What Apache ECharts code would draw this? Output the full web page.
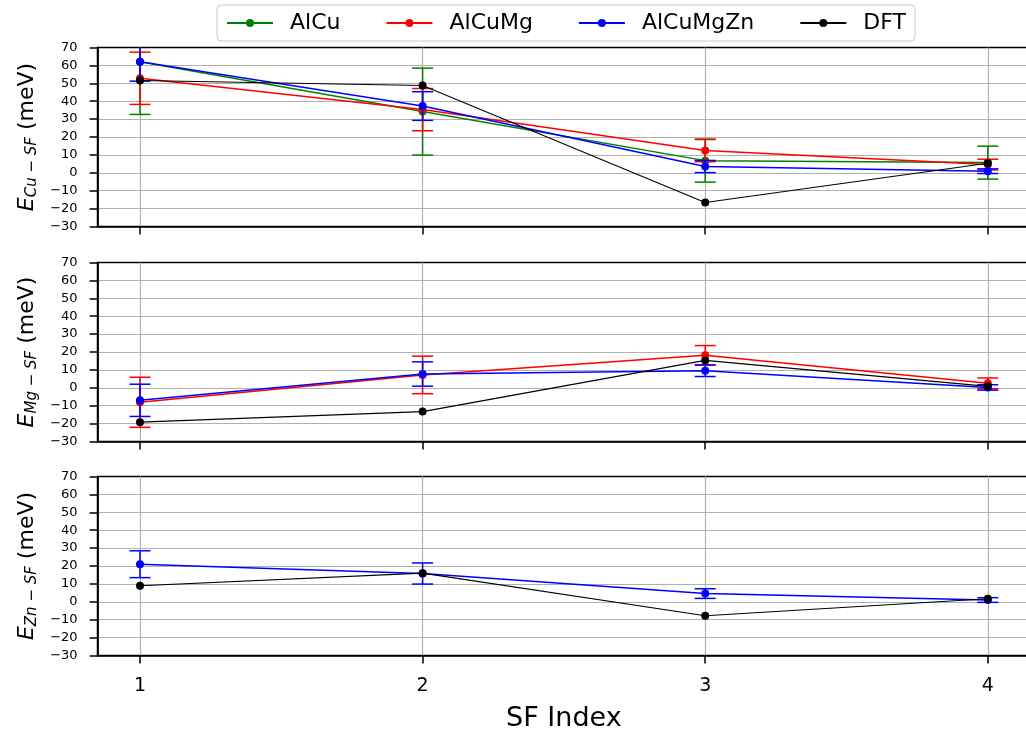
<!DOCTYPE html>
<html>
<head>
<meta charset="utf-8">
<script src="https://cdn.jsdelivr.net/npm/echarts@6/dist/echarts.min.js"></script>
<style>html,body{margin:0;padding:0;background:#fff}#c{width:1026px;height:735px}</style>
</head>
<body>
<div id="c"></div>
<script>
// ---- data ----
const sfIndex = [1, 2, 3, 4];
const seriesNames = ['AlCu', 'AlCuMg', 'AlCuMgZn', 'DFT'];
const yTicks = [-30, -20, -10, 0, 10, 20, 30, 40, 50, 60, 70];

// Panel 1: E_Cu-SF
const cuAlCu = [62, 34.2, 6.8, 5.7];
const cuAlCuErr = [29.4, 24.3, 12, 9.2];
const cuAlCuMg = [52.8, 35.3, 12.4, 4.6];
const cuAlCuMgErr = [14.6, 11.8, 6.2, 3];
const cuAlCuMgZn = [62, 37.3, 3.5, 0.9];
const cuAlCuMgZnErr = [10.8, 8, 3.4, 1.3];
const cuDFT = [51.6, 48.8, -16.6, 5.3];

// Panel 2: E_Mg-SF
const mgAlCuMg = [-8.1, 7.2, 18.2, 2.5];
const mgAlCuMgErr = [14, 10.5, 5.4, 3];
const mgAlCuMgZn = [-7, 7.7, 9.5, 0.2];
const mgAlCuMgZnErr = [9, 6.8, 3.2, 1.5];
const mgDFT = [-19.2, -13.3, 15.3, 0.8];

// Panel 3: E_Zn-SF
const znAlCuMgZn = [21, 15.8, 4.6, 1];
const znAlCuMgZnErr = [7.5, 5.9, 2.7, 1.3];
const znDFT = [9, 16, -7.8, 1.7];

// ---- styling ----
const colors = { AlCu: '#008000', AlCuMg: '#ff0000', AlCuMgZn: '#0000ff', DFT: '#000000' };
const order = { AlCu: 0, AlCuMg: 1, AlCuMgZn: 2, DFT: 3 };
const FONT = 'DejaVu Sans';

const chart = echarts.init(document.getElementById('c'), null, { renderer: 'canvas' });

const panels = [
  { sub: 'Cu \u2212 SF', sets: [
      { name: 'AlCu', v: cuAlCu, e: cuAlCuErr },
      { name: 'AlCuMg', v: cuAlCuMg, e: cuAlCuMgErr },
      { name: 'AlCuMgZn', v: cuAlCuMgZn, e: cuAlCuMgZnErr },
      { name: 'DFT', v: cuDFT } ] },
  { sub: 'Mg \u2212 SF', sets: [
      { name: 'AlCuMg', v: mgAlCuMg, e: mgAlCuMgErr },
      { name: 'AlCuMgZn', v: mgAlCuMgZn, e: mgAlCuMgZnErr },
      { name: 'DFT', v: mgDFT } ] },
  { sub: 'Zn \u2212 SF', sets: [
      { name: 'AlCuMgZn', v: znAlCuMgZn, e: znAlCuMgZnErr },
      { name: 'DFT', v: znDFT } ] }
];

const gridTops = [47.5, 262.5, 476.5];
const gridH = 179;

const grids = [], xAxes = [], yAxes = [], lineSeries = [], errSeries = [];

function errRender(params, api) {
  const x = api.value(0), y = api.value(1), e = api.value(2);
  const c = api.visual('color');
  const p = api.coord([x, y]);
  const top = api.coord([x, y + e])[1];
  const bot = api.coord([x, y - e])[1];
  const cs = params.coordSys;
  const yTop = Math.max(top, cs.y), yBot = Math.min(bot, cs.y + cs.height);
  const st = { stroke: c, lineWidth: 1.5 };
  const ch = [{ type: 'line', shape: { x1: p[0], y1: yTop, x2: p[0], y2: yBot }, style: st }];
  const hw = 10.5;
  if (top >= cs.y - 0.5) ch.push({ type: 'line', shape: { x1: p[0] - hw, y1: top, x2: p[0] + hw, y2: top }, style: st });
  if (bot <= cs.y + cs.height + 0.5) ch.push({ type: 'line', shape: { x1: p[0] - hw, y1: bot, x2: p[0] + hw, y2: bot }, style: st });
  return { type: 'group', children: ch };
}

panels.forEach((pn, gi) => {
  const last = gi === panels.length - 1;
  grids.push({ left: 97.6, width: 932.6, top: gridTops[gi], height: gridH, show: true,
    outerBoundsMode: 'none', containLabel: false,
    borderColor: '#000', borderWidth: 1.7, backgroundColor: 'transparent' });
  xAxes.push({
    type: 'value', gridIndex: gi, min: 0.85, max: 4.15,
    axisLine: { show: true, onZero: false, lineStyle: { color: '#000', width: 1.7 } },
    axisTick: { show: true, length: 8, lineStyle: { color: '#000', width: 1.5 }, customValues: sfIndex },
    axisLabel: { show: last, customValues: sfIndex, fontFamily: FONT, fontSize: 19, color: '#000', margin: 21,
      formatter: v => String(Math.round(v)) },
    splitLine: { show: true, lineStyle: { color: '#b0b0b0', width: 1.2 } },
    name: last ? 'SF Index' : '', nameLocation: 'middle', nameGap: 50,
    nameTextStyle: { fontFamily: FONT, fontSize: 27, color: '#000' }
  });
  yAxes.push({
    type: 'value', gridIndex: gi, min: -30, max: 70, interval: 10,
    axisLine: { show: true, lineStyle: { color: '#000', width: 1.7 } },
    axisTick: { show: true, length: 8, lineStyle: { color: '#000', width: 1.5 } },
    axisLabel: { fontFamily: FONT, fontSize: 13, color: '#000', margin: 20,
      formatter: v => String(v).replace('-', '\u2212') },
    splitLine: { show: true, showMinLine: false, showMaxLine: false, lineStyle: { color: '#b0b0b0', width: 1.2 } },
    name: '{E|E}{s|' + pn.sub + '}{m| (meV)}',
    nameLocation: 'middle', nameRotate: 90, nameGap: 58,
    nameTextStyle: {
      fontFamily: FONT, color: '#000',
      rich: {
        E: { fontFamily: FONT, fontSize: 22, fontStyle: 'italic', color: '#000' },
        s: { fontFamily: FONT, fontSize: 15, fontStyle: 'italic', color: '#000', padding: [9, 0, 0, 0] },
        m: { fontFamily: FONT, fontSize: 22, color: '#000' }
      }
    }
  });
  pn.sets.forEach(s => {
    const k = order[s.name];
    lineSeries.push({
      type: 'line', name: s.name, xAxisIndex: gi, yAxisIndex: gi,
      data: sfIndex.map((x, i) => [x, s.v[i]]),
      symbol: 'circle', symbolSize: 8, showSymbol: true,
      lineStyle: { color: colors[s.name], width: s.name === 'DFT' ? 1.1 : 1.5 },
      itemStyle: { color: colors[s.name] },
      z: 11 + k * 2, animation: false
    });
    if (s.e) {
      errSeries.push({
        type: 'custom', name: s.name, xAxisIndex: gi, yAxisIndex: gi,
        data: sfIndex.map((x, i) => [x, s.v[i], s.e[i]]),
        encode: { x: 0, y: 1 },
        itemStyle: { color: colors[s.name] },
        renderItem: errRender, z: 10 + k * 2, animation: false
      });
    }
  });
});

chart.setOption({
  animation: false,
  backgroundColor: '#fff',
  textStyle: { fontFamily: FONT },
  legend: {
    data: seriesNames, top: 5, left: 217,
    itemWidth: 46, itemHeight: 10, itemGap: 45,
    padding: [7, 9, 7, 9],
    borderColor: '#cccccc', borderWidth: 1, borderRadius: 4, backgroundColor: '#fff',
    textStyle: { fontFamily: FONT, fontSize: 22, color: '#000', padding: [0, 0, 0, 12] }
  },
  grid: grids, xAxis: xAxes, yAxis: yAxes,
  series: lineSeries.concat(errSeries)
});
</script>
</body>
</html>
